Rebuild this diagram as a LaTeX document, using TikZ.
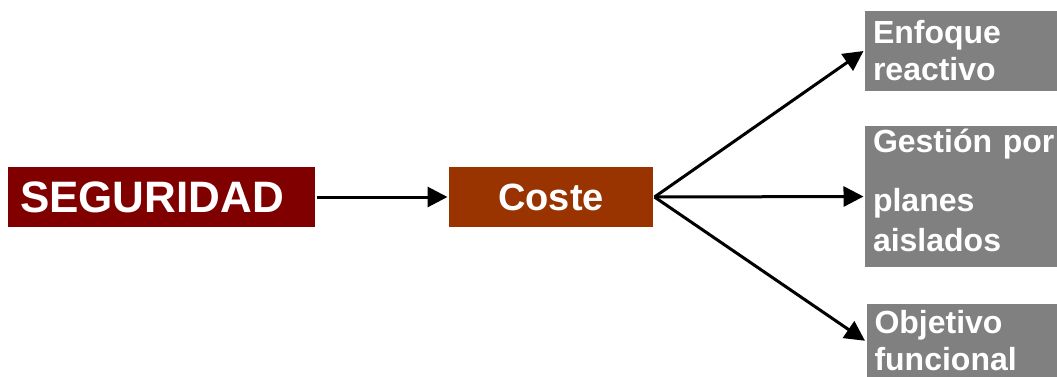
\documentclass[tikz,border=0pt]{standalone}
\usepackage{fontspec}
\setmainfont{Liberation Sans}
\usetikzlibrary{arrows.meta}
\definecolor{seguridad}{HTML}{800000}
\definecolor{coste}{HTML}{993300}
\definecolor{gris}{HTML}{808080}
\tikzset{
  enfoque/.style={fill=gris, text=white, align=left, text width=184pt,
    inner xsep=8pt, font=\bfseries\fontsize{32}{37}\selectfont}
}

\begin{document}
\begin{tikzpicture}[x=1pt, y=-1pt, line width=3pt,
  >={Triangle[length=20pt,width=20pt]}]
\useasboundingbox[fill=white] (0,0) rectangle (1057,376);
\node[fill=seguridad, text=white, text width=283pt, inner xsep=12pt, align=left,
  minimum height=60pt, font=\bfseries\fontsize{44}{50}\selectfont] (S) at (161.5,197) {SEGURIDAD};
\node[fill=coste, text=white, minimum width=204pt, minimum height=60pt,
  font=\bfseries\fontsize{38}{45}\selectfont] (C) at (551,197) {Coste};
\node[enfoque, minimum height=80pt] (E) at (965,51) {Enfoque\\reactivo};
\node[enfoque, minimum height=137pt] (G) at (965,196.5)
  {Gestión por\\[22pt]planes\\[3pt]aislados\rule[-12pt]{0pt}{12pt}};
\node[enfoque, anchor=north west, inner ysep=7pt] (O) at (865,302) {Objetivo\\funcional};
\draw [->] (S) -- (C);
\draw [->] (C.east) -- (E.west);
\draw [->] (C.east) -- (G.west);
\draw [->] (C.east) -- (O.west);
\end{tikzpicture}
\end{document}
